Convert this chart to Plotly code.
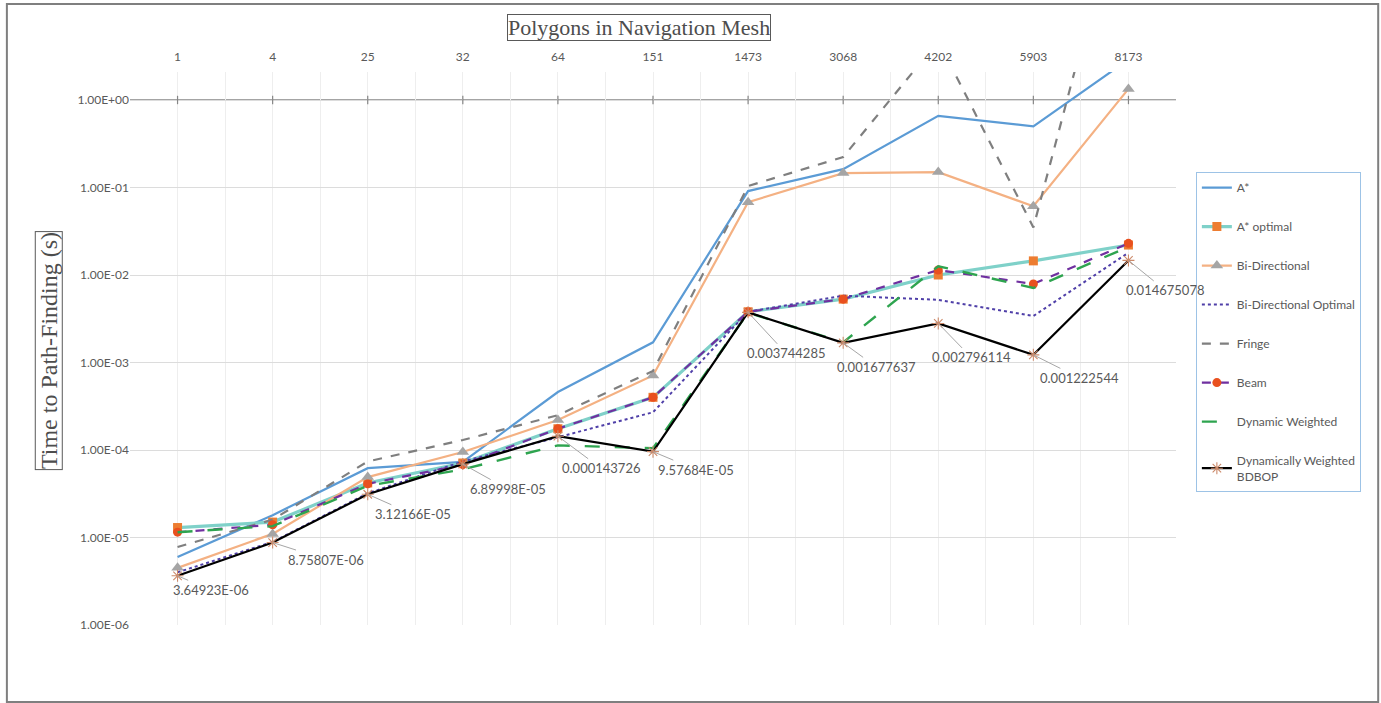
import math
import plotly.graph_objects as go

# Number of polygons in each navigation mesh (category axis, shown on top)
polygons = ["1", "4", "25", "32", "64", "151", "1473", "3068", "4202", "5903", "8173"]

# Time to path-finding in seconds, per algorithm
a_star = [6.0e-6, 1.8e-5, 6.2e-5, 7.3e-5, 4.6e-4, 1.7e-3, 0.091, 0.162, 0.66, 0.50, 2.9]
a_star_optimal = [1.3e-5, 1.5e-5, 4.2e-5, 7.1e-5, 1.75e-4, 4.0e-4, 3.8e-3, 5.3e-3, 1.0e-2, 1.45e-2, 2.2e-2]
bi_directional = [4.5e-6, 1.1e-5, 4.9e-5, 9.5e-5, 2.2e-4, 7.1e-4, 0.068, 0.146, 0.15, 0.061, 1.34]
bi_directional_optimal = [4.0e-6, 8.9e-6, 3.2e-5, 7.4e-5, 1.4e-4, 2.7e-4, 3.8e-3, 5.8e-3, 5.2e-3, 3.4e-3, 1.8e-2]
fringe = [7.8e-6, 1.6e-5, 7.4e-5, 1.3e-4, 2.5e-4, 8.0e-4, 0.104, 0.223, 4.7, 0.035, 450.0]
beam = [1.15e-5, 1.4e-5, 4.1e-5, 6.8e-5, 1.75e-4, 4.0e-4, 3.8e-3, 5.3e-3, 1.14e-2, 7.9e-3, 2.3e-2]
dynamic_weighted = [1.15e-5, 1.35e-5, 3.9e-5, 6.0e-5, 1.13e-4, 1.05e-4, 3.7e-3, 1.7e-3, 1.26e-2, 7.1e-3, 2.1e-2]
dw_bdbop = [3.64923e-06, 8.75807e-06, 3.12166e-05, 6.89998e-05, 0.000143726, 9.57684e-05,
            0.003744285, 0.001677637, 0.002796114, 0.001222544, 0.014675078]

# Log-axis decades and their labels
y_ticks = [1e-6, 1e-5, 1e-4, 1e-3, 1e-2, 1e-1, 1e0]
y_tick_text = ["1.00E-06", "1.00E-05", "1.00E-04", "1.00E-03", "1.00E-02", "1.00E-01", "1.00E+00"]

# Pixel offsets (dx, dy) of each data label from its point
label_offsets = [(33, 14), (53, 17), (45, 20), (45, 25), (43, 32), (43, 18),
                 (38, 41), (33, 24), (33, 34), (46, 23), (37, 30)]

x = list(range(len(polygons)))
GRAY_TXT = "#595959"
FONT = "Lato"


def excel_general(v):
    """Format a value the way a spreadsheet's General format shows it."""
    if v < 1e-4:
        return f"{v:.5E}"
    return f"{v:.9f}"[:11]


fig = go.Figure()

series = [
    dict(name="A*", y=a_star, line=dict(color="#5b9bd5", width=2.2), mode="lines"),
    dict(name="A* optimal", y=a_star_optimal, line=dict(color="#7fd1c9", width=3.2),
         mode="lines+markers", marker=dict(symbol="square", size=9, color="#ed7d31")),
    dict(name="Bi-Directional", y=bi_directional, line=dict(color="#f4b183", width=2.2),
         mode="lines+markers", marker=dict(symbol="triangle-up", size=11, color="#a5a5a5")),
    dict(name="Bi-Directional Optimal", y=bi_directional_optimal,
         line=dict(color="#4f3fa8", width=2, dash="dot"), mode="lines"),
    dict(name="Fringe", y=fringe, line=dict(color="#7f7f7f", width=2.2, dash="dash"), mode="lines"),
    dict(name="Beam", y=beam, line=dict(color="#7030a0", width=2.2, dash="dash"),
         mode="lines+markers", marker=dict(symbol="circle", size=9, color="#e9501f")),
    dict(name="Dynamic Weighted", y=dynamic_weighted,
         line=dict(color="#2ea44f", width=2.4, dash="longdash"), mode="lines"),
    dict(name="Dynamically Weighted<br>BDBOP", y=dw_bdbop, line=dict(color="#000000", width=2.2),
         mode="lines+markers",
         marker=dict(symbol="asterisk-open", size=10, color="#cc8a6a",
                     line=dict(color="#cc8a6a", width=1.1))),
]

# Horizontal axis line crossing at 1.0 with category tick marks
fig.add_shape(type="line", xref="paper", x0=0, x1=1, yref="y", y0=1, y1=1,
              line=dict(color="#868686", width=1.6), layer="below")
fig.add_trace(go.Scatter(x=x, y=[1] * len(x), mode="markers", showlegend=False, hoverinfo="skip",
                         marker=dict(symbol="line-ns-open", size=6, color="#868686",
                                     line=dict(color="#868686", width=1.2))))

for i, s in enumerate(series):
    fig.add_trace(go.Scatter(x=x, y=s["y"], name=s["name"], mode=s["mode"], line=s["line"],
                             marker=s.get("marker"), legendgroup=f"g{i}",
                             cliponaxis=True))

# Data labels of the BDBOP series with leader lines (annotation y is in log units)
for xi, v, (dx, dy) in zip(x, dw_bdbop, label_offsets):
    fig.add_annotation(x=xi, y=math.log10(v), yref="y", xref="x", text=excel_general(v),
                       showarrow=True, arrowhead=0, arrowwidth=1, arrowcolor="#a6a6a6",
                       ax=dx, ay=dy, standoff=0,
                       font=dict(family=FONT, size=13, color=GRAY_TXT))

# Axis titles in boxes
fig.add_annotation(xref="paper", yref="paper", x=0.487, y=1.0796, xanchor="center", yanchor="middle",
                   text="Polygons in Navigation Mesh", showarrow=False,
                   font=dict(family="Liberation Serif", size=22, color="#4d4d4d"),
                   bordercolor="#595959", borderwidth=1, borderpad=0, bgcolor="white")
fig.add_annotation(xref="paper", yref="paper", x=-0.0775, y=0.497, xanchor="center", yanchor="middle",
                   text="Time to Path-Finding (s)", textangle=-90, showarrow=False,
                   font=dict(family="Liberation Serif", size=24, color="#4d4d4d"),
                   bordercolor="#595959", borderwidth=1, borderpad=0, bgcolor="white")

# Outer chart frame
fig.add_shape(type="rect", xref="paper", yref="paper", x0=-0.1177, x1=1.1933, y0=-0.1392, y1=1.123,
              line=dict(color="#7f7f7f", width=2))

fig.update_layout(
    width=1381, height=703,
    margin=dict(l=130, r=205, t=72, b=78),
    paper_bgcolor="white", plot_bgcolor="white",
    font=dict(family=FONT, size=12, color=GRAY_TXT),
    showlegend=True,
    legend=dict(x=1.019, y=0.819, xanchor="left", yanchor="top",
                bordercolor="#9dc3e6", borderwidth=1, bgcolor="white",
                font=dict(family=FONT, size=12, color=GRAY_TXT),
                tracegroupgap=20, itemwidth=30),
    xaxis=dict(range=[-0.5, 10.5], tickmode="array", tickvals=x, ticktext=polygons, side="top",
               showgrid=True, gridcolor="#eeeeee", showline=False, zeroline=False, ticks="",
               ticklabelstandoff=8,
               tickfont=dict(family=FONT, size=12, color=GRAY_TXT),
               minor=dict(tickmode="linear", tick0=-0.5, dtick=1, showgrid=True, gridcolor="#eeeeee")),
    yaxis=dict(type="log", range=[-6, 0.32], tickmode="array", tickvals=y_ticks, ticktext=y_tick_text,
               showgrid=True, gridcolor="#dcdcdc", showline=False, zeroline=False, ticks="",
               tickfont=dict(family=FONT, size=12, color=GRAY_TXT)),
)

fig.write_html("out.html")
